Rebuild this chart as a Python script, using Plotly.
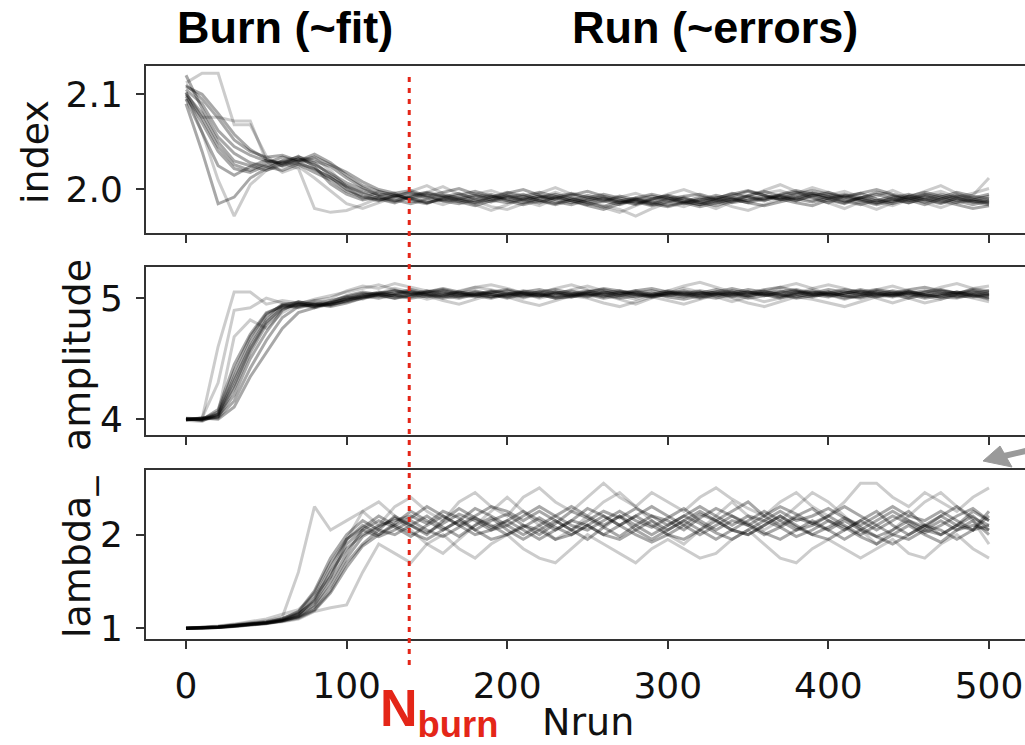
import plotly.graph_objects as go

# ---------------- data ----------------
steps = list(range(0, 501, 10))
n_burn = 139

x_ticks = [0, 100, 200, 300, 400, 500]
x_tick_text = ["0", "100", "200", "300", "400", "500"]
idx_ticks = [2.0, 2.1]
idx_tick_text = ["2.0", "2.1"]
amp_ticks = [4, 5]
amp_tick_text = ["4", "5"]
lam_ticks = [1, 2]
lam_tick_text = ["1", "2"]

index_walkers = [
    [2.105, 2.090, 2.062, 2.045, 2.036, 2.030, 2.028, 2.032, 2.026, 2.017,
     2.007, 2.000, 1.995, 1.992, 1.990, 1.994, 1.988, 1.991, 1.994, 1.989,
     1.986, 1.990, 1.993, 1.987, 1.984, 1.989, 1.992, 1.986, 1.988, 1.984,
     1.990, 1.993, 1.995, 1.990, 1.996, 1.992, 1.988, 1.994, 1.997, 1.991,
     1.986, 1.993, 1.996, 1.990, 1.987, 1.993, 1.989, 1.985, 1.991, 1.988,
     1.986],
    [2.098, 2.070, 2.040, 2.022, 2.018, 2.025, 2.030, 2.034, 2.030, 2.024,
     2.012, 2.002, 1.994, 1.996, 1.988, 1.985, 1.992, 1.996, 1.990, 1.987,
     1.992, 1.995, 1.989, 1.985, 1.991, 1.986, 1.982, 1.988, 1.991, 1.987,
     1.983, 1.987, 1.992, 1.989, 1.993, 1.998, 1.994, 1.989, 1.992, 1.996,
     1.993, 1.988, 1.991, 1.997, 1.994, 1.989, 1.984, 1.990, 1.994, 1.991,
     1.995],
    [2.112, 2.122, 2.122, 2.068, 2.068, 2.035, 2.024, 2.028, 2.033, 2.020,
     2.002, 1.990, 1.998, 1.993, 1.996, 1.989, 1.984, 1.990, 1.995, 1.999,
     1.993, 1.988, 1.983, 1.990, 1.995, 1.991, 1.987, 1.992, 1.996, 1.990,
     1.986, 1.982, 1.988, 1.992, 1.987, 1.991, 1.996, 1.999, 1.993, 1.988,
     1.994, 1.998, 1.992, 1.987, 1.983, 1.989, 1.994, 1.998, 1.992, 1.996,
     2.001],
    [2.090, 2.040, 1.985, 1.992, 2.012, 2.022, 2.030, 2.026, 2.018, 2.010,
     1.998, 1.992, 1.988, 1.994, 1.991, 1.986, 1.990, 1.987, 1.983, 1.988,
     1.994, 1.990, 1.986, 1.992, 1.988, 1.983, 1.979, 1.985, 1.990, 1.986,
     1.991, 1.987, 1.984, 1.990, 1.986, 1.989, 1.993, 1.990, 1.986, 1.983,
     1.989, 1.985, 1.991, 1.995, 1.990, 1.986, 1.992, 1.988, 1.984, 1.980,
     1.983],
    [2.102, 2.060, 2.010, 1.972, 2.005, 2.020, 2.028, 2.022, 1.980, 1.976,
     1.978, 1.984, 1.991, 1.987, 1.993, 1.997, 2.003, 1.995, 1.988, 1.982,
     1.979, 1.985, 1.991, 1.997, 1.992, 1.986, 1.981, 1.976, 1.983, 1.989,
     1.995, 2.000, 1.994, 1.988, 1.982, 1.978, 1.984, 1.990, 1.996, 2.002,
     1.997, 1.991, 1.985, 1.979, 1.986, 1.992, 1.998, 2.004, 1.996, 1.990,
     1.985],
    [2.110, 2.095, 2.075, 2.052, 2.040, 2.034, 2.036, 2.030, 2.034, 2.026,
     2.018, 2.008, 2.000, 1.996, 1.999, 1.993, 1.997, 2.001, 1.995, 1.991,
     1.996, 2.000, 1.994, 1.990, 1.994, 1.998, 1.993, 1.989, 1.985, 1.990,
     1.994, 1.990, 1.986, 1.991, 1.995, 1.999, 1.994, 1.990, 1.995, 1.999,
     1.995, 1.991, 1.996, 2.000, 1.995, 1.991, 1.987, 1.992, 1.997, 1.993,
     1.990],
    [2.095, 2.076, 2.076, 2.072, 2.072, 2.030, 2.018, 2.024, 2.012, 1.998,
     1.985, 1.980, 1.986, 1.992, 1.998, 2.004, 1.996, 1.990, 1.984, 1.978,
     1.984, 1.990, 1.996, 2.002, 1.995, 1.989, 1.983, 1.979, 1.972, 1.980,
     1.986, 1.992, 1.986, 1.980, 1.987, 1.993, 1.999, 2.005, 1.998, 1.992,
     1.986, 1.980, 1.987, 1.993, 1.999, 1.992, 1.986, 1.981, 1.987, 1.994,
     2.012],
    [2.100, 2.080, 2.050, 2.030, 2.025, 2.020, 2.026, 2.032, 2.028, 2.015,
     2.004, 1.996, 1.990, 1.986, 1.992, 1.996, 1.992, 1.988, 1.992, 1.995,
     1.990, 1.986, 1.991, 1.995, 1.990, 1.987, 1.991, 1.988, 1.984, 1.990,
     1.993, 1.988, 1.984, 1.988, 1.992, 1.988, 1.991, 1.994, 1.990, 1.987,
     1.991, 1.995, 1.990, 1.986, 1.991, 1.995, 1.990, 1.986, 1.990, 1.987,
     1.984],
    [2.120, 2.085, 2.055, 2.038, 2.028, 2.024, 2.020, 2.027, 2.022, 2.012,
     2.003, 1.997, 1.993, 1.989, 1.985, 1.990, 1.994, 1.991, 1.986, 1.990,
     1.993, 1.989, 1.993, 1.990, 1.986, 1.991, 1.995, 1.991, 1.987, 1.983,
     1.987, 1.991, 1.987, 1.983, 1.988, 1.993, 1.989, 1.992, 1.988, 1.994,
     1.990, 1.986, 1.992, 1.988, 1.993, 1.989, 1.995, 1.991, 1.986, 1.989,
     1.993],
    [2.095, 2.060, 2.025, 2.015, 2.024, 2.031, 2.027, 2.035, 2.024, 2.006,
     1.995, 1.989, 1.992, 1.988, 1.994, 1.997, 1.993, 1.989, 1.986, 1.992,
     1.997, 1.993, 1.988, 1.984, 1.989, 1.994, 1.990, 1.986, 1.991, 1.995,
     1.991, 1.986, 1.982, 1.986, 1.990, 1.994, 1.998, 1.993, 1.989, 1.993,
     1.997, 1.992, 1.988, 1.984, 1.988, 1.993, 1.997, 1.993, 1.988, 1.984,
     1.988],
    [2.108, 2.100, 2.080, 2.058, 2.042, 2.032, 2.025, 2.030, 2.037, 2.028,
     2.015, 2.004, 1.998, 1.994, 1.990, 1.986, 1.990, 1.994, 1.998, 1.993,
     1.988, 1.984, 1.988, 1.992, 1.996, 1.992, 1.988, 1.984, 1.989, 1.993,
     1.989, 1.985, 1.989, 1.994, 1.990, 1.986, 1.983, 1.987, 1.991, 1.996,
     1.992, 1.988, 1.984, 1.989, 1.985, 1.990, 1.994, 1.989, 1.993, 1.990,
     1.987],
    [2.102, 2.075, 2.045, 2.026, 2.020, 2.028, 2.034, 2.029, 2.021, 2.013,
     2.000, 1.993, 1.989, 1.993, 1.997, 1.992, 1.988, 1.985, 1.989, 1.993,
     1.989, 1.993, 1.997, 1.993, 1.988, 1.984, 1.988, 1.993, 1.989, 1.985,
     1.982, 1.986, 1.990, 1.986, 1.990, 1.986, 1.990, 1.995, 1.999, 1.995,
     1.990, 1.994, 1.989, 1.985, 1.990, 1.986, 1.990, 1.995, 1.991, 1.987,
     1.990],
]

amplitude_walkers = [
    [3.995, 4.005, 4.040, 4.350, 4.640, 4.850, 4.950, 4.960, 4.930, 4.960,
     4.990, 5.030, 5.040, 5.060, 5.030, 5.050, 5.070, 5.040, 5.020, 5.050,
     5.070, 5.040, 5.020, 5.050, 5.030, 5.010, 5.040, 5.060, 5.030, 5.010,
     5.040, 5.060, 5.030, 5.050, 5.080, 5.050, 5.020, 5.040, 5.060, 5.030,
     5.010, 5.040, 5.070, 5.040, 5.020, 5.050, 5.030, 5.060, 5.040, 5.020,
     5.040],
    [4.010, 4.000, 4.600, 5.050, 5.050, 4.950, 4.980, 4.960, 4.980, 5.000,
     5.060, 5.100, 5.080, 5.120, 5.090, 5.060, 5.020, 5.050, 5.090, 5.110,
     5.080, 5.040, 5.000, 5.030, 5.070, 5.100, 5.060, 5.020, 4.990, 5.030,
     5.060, 5.100, 5.130, 5.090, 5.050, 5.010, 4.970, 5.000, 5.040, 5.080,
     5.110, 5.080, 5.040, 5.000, 4.960, 5.000, 5.050, 5.090, 5.120, 5.080,
     5.060],
    [4.000, 3.990, 4.020, 4.200, 4.500, 4.720, 4.900, 4.970, 4.950, 4.940,
     4.980, 5.010, 5.030, 5.020, 5.050, 5.030, 5.010, 5.040, 5.060, 5.030,
     5.000, 5.030, 5.050, 5.020, 5.040, 5.060, 5.030, 5.000, 5.020, 5.040,
     5.010, 4.990, 5.020, 5.050, 5.030, 5.000, 5.020, 5.050, 5.070, 5.040,
     5.050, 5.020, 5.000, 5.030, 5.060, 5.040, 5.010, 5.030, 5.050, 5.020,
     5.000],
    [3.990, 4.010, 4.300, 4.900, 4.920, 5.000, 4.960, 4.930, 4.980, 4.960,
     5.010, 4.990, 5.040, 5.080, 5.050, 5.020, 4.980, 4.950, 4.990, 5.030,
     5.010, 4.970, 4.940, 4.980, 5.020, 5.000, 4.960, 4.930, 4.970, 5.010,
     4.980, 4.950, 4.990, 5.030, 5.000, 4.960, 4.930, 4.970, 5.010, 4.990,
     4.960, 4.930, 4.970, 5.010, 5.040, 5.000, 4.960, 4.990, 5.030, 5.000,
     4.970],
    [4.000, 4.010, 4.000, 4.100, 4.350, 4.550, 4.750, 4.880, 4.920, 4.950,
     4.970, 5.000, 5.020, 5.000, 5.030, 5.060, 5.040, 5.010, 5.030, 5.060,
     5.040, 5.020, 5.050, 5.070, 5.040, 5.020, 5.050, 5.030, 5.060, 5.080,
     5.050, 5.030, 5.050, 5.020, 5.040, 5.070, 5.050, 5.030, 5.010, 5.040,
     5.070, 5.050, 5.030, 5.060, 5.040, 5.020, 5.050, 5.070, 5.040, 5.060,
     5.030],
    [4.005, 3.995, 4.080, 4.450, 4.700, 4.880, 4.930, 4.950, 4.920, 4.970,
     5.020, 5.050, 5.030, 5.000, 5.020, 5.050, 5.080, 5.050, 5.030, 5.010,
     5.030, 5.060, 5.040, 5.010, 5.030, 5.050, 5.080, 5.060, 5.040, 5.020,
     5.050, 5.030, 5.000, 5.030, 5.060, 5.040, 5.070, 5.090, 5.060, 5.030,
     5.040, 5.070, 5.050, 5.020, 5.040, 5.070, 5.090, 5.060, 5.040, 5.070,
     5.050],
    [3.990, 3.980, 4.050, 4.680, 4.820, 4.750, 4.880, 4.950, 4.990, 5.020,
     5.050, 5.080, 5.110, 5.070, 5.030, 4.990, 5.020, 5.060, 5.090, 5.070,
     5.030, 5.000, 5.040, 5.080, 5.110, 5.070, 5.030, 4.990, 4.950, 5.000,
     5.040, 5.080, 5.050, 5.010, 4.970, 5.010, 5.050, 5.090, 5.120, 5.080,
     5.030, 4.990, 5.030, 5.070, 5.100, 5.060, 5.020, 4.990, 5.030, 5.080,
     5.100],
    [4.000, 4.000, 4.030, 4.280, 4.580, 4.800, 4.920, 4.940, 4.960, 4.950,
     4.980, 5.020, 5.000, 5.030, 5.060, 5.030, 5.000, 5.020, 5.040, 5.010,
     5.040, 5.010, 5.030, 5.000, 5.010, 5.040, 5.010, 5.040, 5.060, 5.030,
     5.020, 5.040, 5.060, 5.040, 5.010, 5.030, 5.060, 5.030, 5.000, 5.020,
     5.030, 5.000, 5.020, 5.050, 5.030, 5.000, 5.030, 5.010, 5.000, 5.030,
     5.010],
    [4.000, 4.000, 4.060, 4.400, 4.680, 4.870, 4.940, 4.970, 4.940, 4.950,
     5.000, 5.020, 5.050, 5.030, 5.010, 5.040, 5.060, 5.030, 5.010, 5.040,
     5.060, 5.030, 5.010, 5.040, 5.060, 5.030, 5.050, 5.020, 5.040, 5.060,
     5.030, 5.050, 5.020, 5.000, 5.030, 5.050, 5.030, 5.010, 5.040, 5.060,
     5.030, 5.050, 5.030, 5.010, 5.030, 5.060, 5.030, 5.010, 5.030, 5.050,
     5.020],
    [3.995, 4.010, 4.010, 4.150, 4.420, 4.650, 4.840, 4.930, 4.950, 4.930,
     4.960, 5.000, 5.030, 5.060, 5.040, 5.010, 5.030, 5.050, 5.020, 5.000,
     5.030, 5.050, 5.030, 5.000, 5.020, 5.050, 5.070, 5.040, 5.010, 5.030,
     5.060, 5.040, 5.010, 5.040, 5.020, 5.050, 5.030, 5.000, 5.030, 5.050,
     5.020, 5.040, 5.060, 5.030, 5.010, 5.040, 5.060, 5.040, 5.010, 5.040,
     5.060],
    [4.005, 3.990, 4.040, 4.320, 4.600, 4.820, 4.940, 4.920, 4.950, 4.980,
     5.010, 5.040, 5.020, 5.040, 5.070, 5.040, 5.020, 5.000, 5.030, 5.050,
     5.020, 5.050, 5.070, 5.040, 5.010, 5.030, 5.000, 5.020, 5.050, 5.020,
     5.040, 5.020, 5.040, 5.070, 5.040, 5.020, 5.040, 5.060, 5.030, 5.010,
     5.040, 5.020, 5.050, 5.070, 5.050, 5.030, 5.000, 5.020, 5.050, 5.030,
     4.990],
    [4.000, 4.005, 4.020, 4.250, 4.550, 4.780, 4.910, 4.950, 4.930, 4.960,
     4.990, 5.010, 5.040, 5.020, 5.000, 5.020, 5.050, 5.020, 5.050, 5.030,
     5.010, 5.040, 5.020, 5.050, 5.020, 5.040, 5.020, 5.050, 5.030, 5.010,
     5.030, 5.010, 5.040, 5.030, 5.050, 5.020, 5.040, 5.020, 5.050, 5.020,
     5.050, 5.020, 5.010, 5.040, 5.020, 5.050, 5.020, 5.040, 5.020, 5.010,
     5.030],
]

lambda_walkers = [
    [1.000, 1.005, 1.015, 1.030, 1.045, 1.060, 1.090, 1.150, 1.300, 1.600,
     1.850, 2.000, 2.100, 2.150, 2.200, 2.120, 2.250, 2.180, 2.050, 2.150,
     2.220, 2.100, 2.000, 2.120, 2.250, 2.180, 2.080, 1.980, 2.100, 2.200,
     2.150, 2.050, 2.180, 2.280, 2.200, 2.100, 2.000, 2.080, 2.180, 2.120,
     2.050, 1.950, 2.050, 2.150, 2.250, 2.150, 2.080, 2.200, 2.300, 2.180,
     2.100],
    [1.000, 1.010, 1.020, 1.040, 1.060, 1.080, 1.120, 1.600, 2.300, 2.050,
     2.150, 2.250, 2.100, 2.300, 2.400, 2.250, 2.150, 2.350, 2.450, 2.300,
     2.200, 2.400, 2.500, 2.350, 2.250, 2.400, 2.550, 2.400, 2.300, 2.450,
     2.350, 2.250, 2.400, 2.500, 2.380, 2.280, 2.200, 2.350, 2.450, 2.300,
     2.200, 2.350, 2.550, 2.550, 2.400, 2.300, 2.450, 2.350, 2.250, 2.400,
     2.500],
    [1.000, 1.000, 1.010, 1.025, 1.040, 1.055, 1.080, 1.120, 1.200, 1.400,
     1.700, 1.900, 2.050, 2.000, 2.100, 2.200, 2.080, 1.980, 2.100, 2.180,
     2.050, 1.950, 2.050, 2.150, 2.050, 1.950, 2.080, 2.200, 2.100, 2.000,
     2.100, 2.200, 2.120, 2.020, 1.950, 2.050, 2.150, 2.080, 1.980, 2.050,
     2.150, 2.080, 1.980, 1.900, 2.000, 2.100, 2.000, 1.920, 2.050, 2.150,
     2.000],
    [1.000, 1.005, 1.010, 1.020, 1.035, 1.050, 1.070, 1.100, 1.180, 1.220,
     1.250, 1.600, 1.900, 1.800, 1.700, 1.900, 2.000, 1.850, 1.750, 1.900,
     2.000, 1.850, 1.750, 1.700, 1.850, 2.000, 1.900, 1.800, 1.700, 1.850,
     1.950, 1.850, 1.750, 1.800, 1.950, 2.050, 1.900, 1.750, 1.700, 1.850,
     1.950, 1.850, 1.750, 1.850, 1.950, 1.800, 1.750, 1.900, 2.000, 1.850,
     1.750],
    [1.000, 1.000, 1.012, 1.030, 1.050, 1.065, 1.100, 1.180, 1.400, 1.750,
     2.000, 2.150, 2.050, 2.200, 2.100, 2.000, 2.150, 2.280, 2.180, 2.080,
     2.150, 2.250, 2.150, 2.050, 2.150, 2.280, 2.200, 2.100, 2.200, 2.300,
     2.200, 2.100, 2.220, 2.150, 2.250, 2.350, 2.200, 2.100, 2.200, 2.280,
     2.150, 2.050, 2.150, 2.250, 2.100, 2.000, 2.100, 2.200, 2.100, 2.250,
     2.150],
    [1.000, 1.010, 1.025, 1.045, 1.070, 1.100, 1.150, 1.200, 1.350, 1.550,
     1.950, 2.250, 2.350, 2.200, 2.050, 1.900, 1.800, 1.950, 2.100, 2.250,
     2.400, 2.250, 2.100, 1.950, 2.050, 2.200, 2.350, 2.450, 2.300, 2.150,
     2.000, 1.900, 2.050, 2.200, 2.350, 2.200, 2.050, 2.150, 2.300, 2.450,
     2.350, 2.200, 2.050, 1.900, 2.050, 2.200, 2.350, 2.450, 2.300, 2.150,
     1.900],
    [1.000, 1.000, 1.008, 1.020, 1.035, 1.050, 1.080, 1.130, 1.250, 1.500,
     1.800, 2.050, 2.150, 2.080, 1.980, 2.100, 2.200, 2.100, 2.000, 2.050,
     2.150, 2.050, 1.950, 2.050, 2.150, 2.100, 2.000, 1.950, 2.050, 2.150,
     2.050, 2.150, 2.250, 2.150, 2.050, 2.000, 2.100, 2.200, 2.100, 2.000,
     1.950, 2.050, 2.150, 2.050, 2.150, 2.250, 2.100, 2.000, 2.100, 2.050,
     2.200],
    [1.000, 1.005, 1.015, 1.028, 1.042, 1.058, 1.085, 1.140, 1.320, 1.650,
     1.950, 2.100, 2.000, 2.120, 2.250, 2.150, 2.050, 2.150, 2.280, 2.200,
     2.100, 2.000, 2.100, 2.200, 2.300, 2.200, 2.100, 2.200, 2.050, 1.950,
     2.050, 2.150, 2.050, 1.950, 2.050, 2.150, 2.250, 2.150, 2.050, 2.100,
     2.200, 2.300, 2.200, 2.100, 2.000, 1.950, 2.050, 2.150, 2.050, 2.100,
     2.050],
    [1.000, 1.003, 1.012, 1.026, 1.040, 1.056, 1.082, 1.125, 1.230, 1.450,
     1.750, 1.980, 2.080, 2.180, 2.100, 2.020, 2.120, 2.220, 2.150, 2.050,
     2.100, 2.200, 2.300, 2.200, 2.100, 2.050, 2.150, 2.250, 2.150, 2.080,
     2.180, 2.280, 2.150, 2.050, 2.150, 2.100, 2.200, 2.300, 2.220, 2.120,
     2.200, 2.100, 2.000, 2.100, 2.200, 2.120, 2.020, 2.100, 2.200, 2.280,
     2.150],
    [1.000, 1.002, 1.010, 1.022, 1.038, 1.052, 1.075, 1.110, 1.190, 1.380,
     1.650, 1.880, 2.000, 2.100, 2.020, 1.950, 2.050, 2.150, 2.050, 1.950,
     2.000, 2.100, 2.050, 1.950, 2.000, 2.100, 2.200, 2.100, 2.000, 1.920,
     2.000, 2.100, 2.000, 2.100, 2.200, 2.120, 2.020, 1.950, 2.050, 2.150,
     2.050, 2.150, 2.050, 1.980, 1.900, 2.000, 2.100, 2.050, 1.950, 2.050,
     2.100],
    [1.000, 1.008, 1.020, 1.035, 1.052, 1.070, 1.105, 1.170, 1.380, 1.700,
     1.950, 2.080, 2.200, 2.100, 2.180, 2.300, 2.200, 2.100, 2.200, 2.300,
     2.250, 2.150, 2.250, 2.150, 2.050, 2.150, 2.250, 2.180, 2.280, 2.200,
     2.100, 2.200, 2.300, 2.200, 2.100, 2.200, 2.150, 2.250, 2.150, 2.200,
     2.280, 2.180, 2.100, 2.200, 2.300, 2.200, 2.150, 2.250, 2.150, 2.050,
     2.250],
    [1.000, 1.004, 1.014, 1.030, 1.046, 1.062, 1.095, 1.160, 1.280, 1.550,
     1.900, 2.050, 1.980, 2.050, 2.150, 2.050, 1.980, 2.080, 2.180, 2.100,
     2.000, 2.080, 2.180, 2.080, 2.000, 2.100, 2.000, 2.100, 2.200, 2.100,
     2.000, 1.950, 2.050, 2.150, 2.050, 2.000, 2.100, 2.200, 2.080, 2.000,
     2.080, 2.180, 2.080, 1.980, 2.050, 2.150, 2.050, 2.000, 2.100, 2.200,
     2.050],
]

param_names = ["index", "amplitude", "lambda_"]

# ---------------- styling ----------------
W, H = 1025, 745
ML, MR, MT, MB = 146, 0, 66, 106
PH = H - MT - MB
PW = W - ML - MR


def py(ypx):
    return (H - MB - ypx) / PH


def px(xpx):
    return (xpx - ML) / PW


panel_px = [(66, 233), (267, 435), (470, 639)]
panel_ranges = [(1.9543, 2.1297), (3.869, 5.257), (0.886, 2.691)]
light_sets = [{2, 4, 6}, {1, 3, 6}, {1, 3, 5}]

fig = go.Figure()
walker_sets = [index_walkers, amplitude_walkers, lambda_walkers]
for p, walkers in enumerate(walker_sets):
    for w, vals in enumerate(walkers):
        alpha = 0.2 if w in light_sets[p] else 0.34
        fig.add_trace(go.Scatter(
            x=steps, y=vals, mode="lines",
            line=dict(color="rgba(0,0,0,%.2f)" % alpha, width=3),
            xaxis="x" if p == 0 else "x%d" % (p + 1),
            yaxis="y" if p == 0 else "y%d" % (p + 1),
            showlegend=False, hoverinfo="skip",
        ))

tick_font = dict(family="DejaVu Sans", size=36, color="#111")
x_range = [-40 / 1.606, (W - 186) / 1.606]

layout = dict(
    width=W, height=H,
    margin=dict(l=ML, r=MR, t=MT, b=MB, pad=0),
    paper_bgcolor="white", plot_bgcolor="white",
    showlegend=False,
)
y_tick_sets = [(idx_ticks, idx_tick_text), (amp_ticks, amp_tick_text), (lam_ticks, lam_tick_text)]
for p in range(3):
    xa = "xaxis" if p == 0 else "xaxis%d" % (p + 1)
    ya = "yaxis" if p == 0 else "yaxis%d" % (p + 1)
    top, bot = panel_px[p]
    layout[xa] = dict(
        domain=[0, 1], anchor="y" if p == 0 else "y%d" % (p + 1),
        range=x_range, showgrid=False, zeroline=False,
        showline=True, mirror=True, linecolor="#333", linewidth=2,
        ticks="outside", ticklen=8, tickwidth=2, tickcolor="#333",
        tickvals=x_ticks, ticktext=x_tick_text,
        showticklabels=(p == 2), tickfont=tick_font, ticklabelstandoff=6,
    )
    tv, tt = y_tick_sets[p]
    layout[ya] = dict(
        domain=[py(bot), py(top)], anchor="x" if p == 0 else "x%d" % (p + 1),
        range=list(panel_ranges[p]), showgrid=False, zeroline=False,
        showline=True, mirror=False, linecolor="#333", linewidth=2,
        ticks="outside", ticklen=8, tickwidth=2, tickcolor="#333",
        tickvals=tv, ticktext=tt, tickfont=tick_font, ticklabelstandoff=6,
    )
fig.update_layout(**layout)

# burn-in marker
fig.add_shape(type="line", xref="x3", yref="paper", x0=n_burn, x1=n_burn,
              y0=py(665), y1=py(72),
              line=dict(color="rgb(228,38,24)", width=3, dash="5px,6px"))

title_font = dict(family="Liberation Sans", size=45, color="black")
annotations = [
    dict(text="<b>Burn (~fit)</b>", x=px(284.5), y=py(28), font=title_font),
    dict(text="<b>Run (~errors)</b>", x=px(715), y=py(28), font=title_font),
    dict(text="<b>N<sub>burn</sub></b>", x=px(439), y=py(712),
         font=dict(family="Liberation Sans", size=52, color="rgb(228,38,24)")),
    dict(text="Nrun", x=px(587.5), y=py(722),
         font=dict(family="DejaVu Sans", size=38, color="#111")),
    dict(text="index", x=px(35), y=py(152), textangle=-90,
         font=dict(family="DejaVu Sans", size=38, color="#111")),
    dict(text="amplitude", x=px(77), y=py(355), textangle=-90,
         font=dict(family="DejaVu Sans", size=38, color="#111")),
    dict(text="lambda_", x=px(77), y=py(557), textangle=-90,
         font=dict(family="DejaVu Sans", size=38, color="#111")),
]
for a in annotations:
    fig.add_annotation(xref="paper", yref="paper", showarrow=False,
                       xanchor="center", yanchor="middle", **a)

# grey pointer arrow at the right edge (decoration): shaft + head
fig.add_shape(type="line", xref="paper", yref="paper",
              x0=px(1004), y0=py(456), x1=px(1030), y1=py(450),
              line=dict(color="#9a9a9a", width=6))
head = [(983, 461), (1000, 446), (1012, 467)]
path = "M " + " L ".join("%.5f,%.5f" % (px(a), py(b)) for a, b in head) + " Z"
fig.add_shape(type="path", xref="paper", yref="paper", path=path,
              fillcolor="#9a9a9a", line=dict(color="#9a9a9a", width=1))

fig.write_html("out.html")
